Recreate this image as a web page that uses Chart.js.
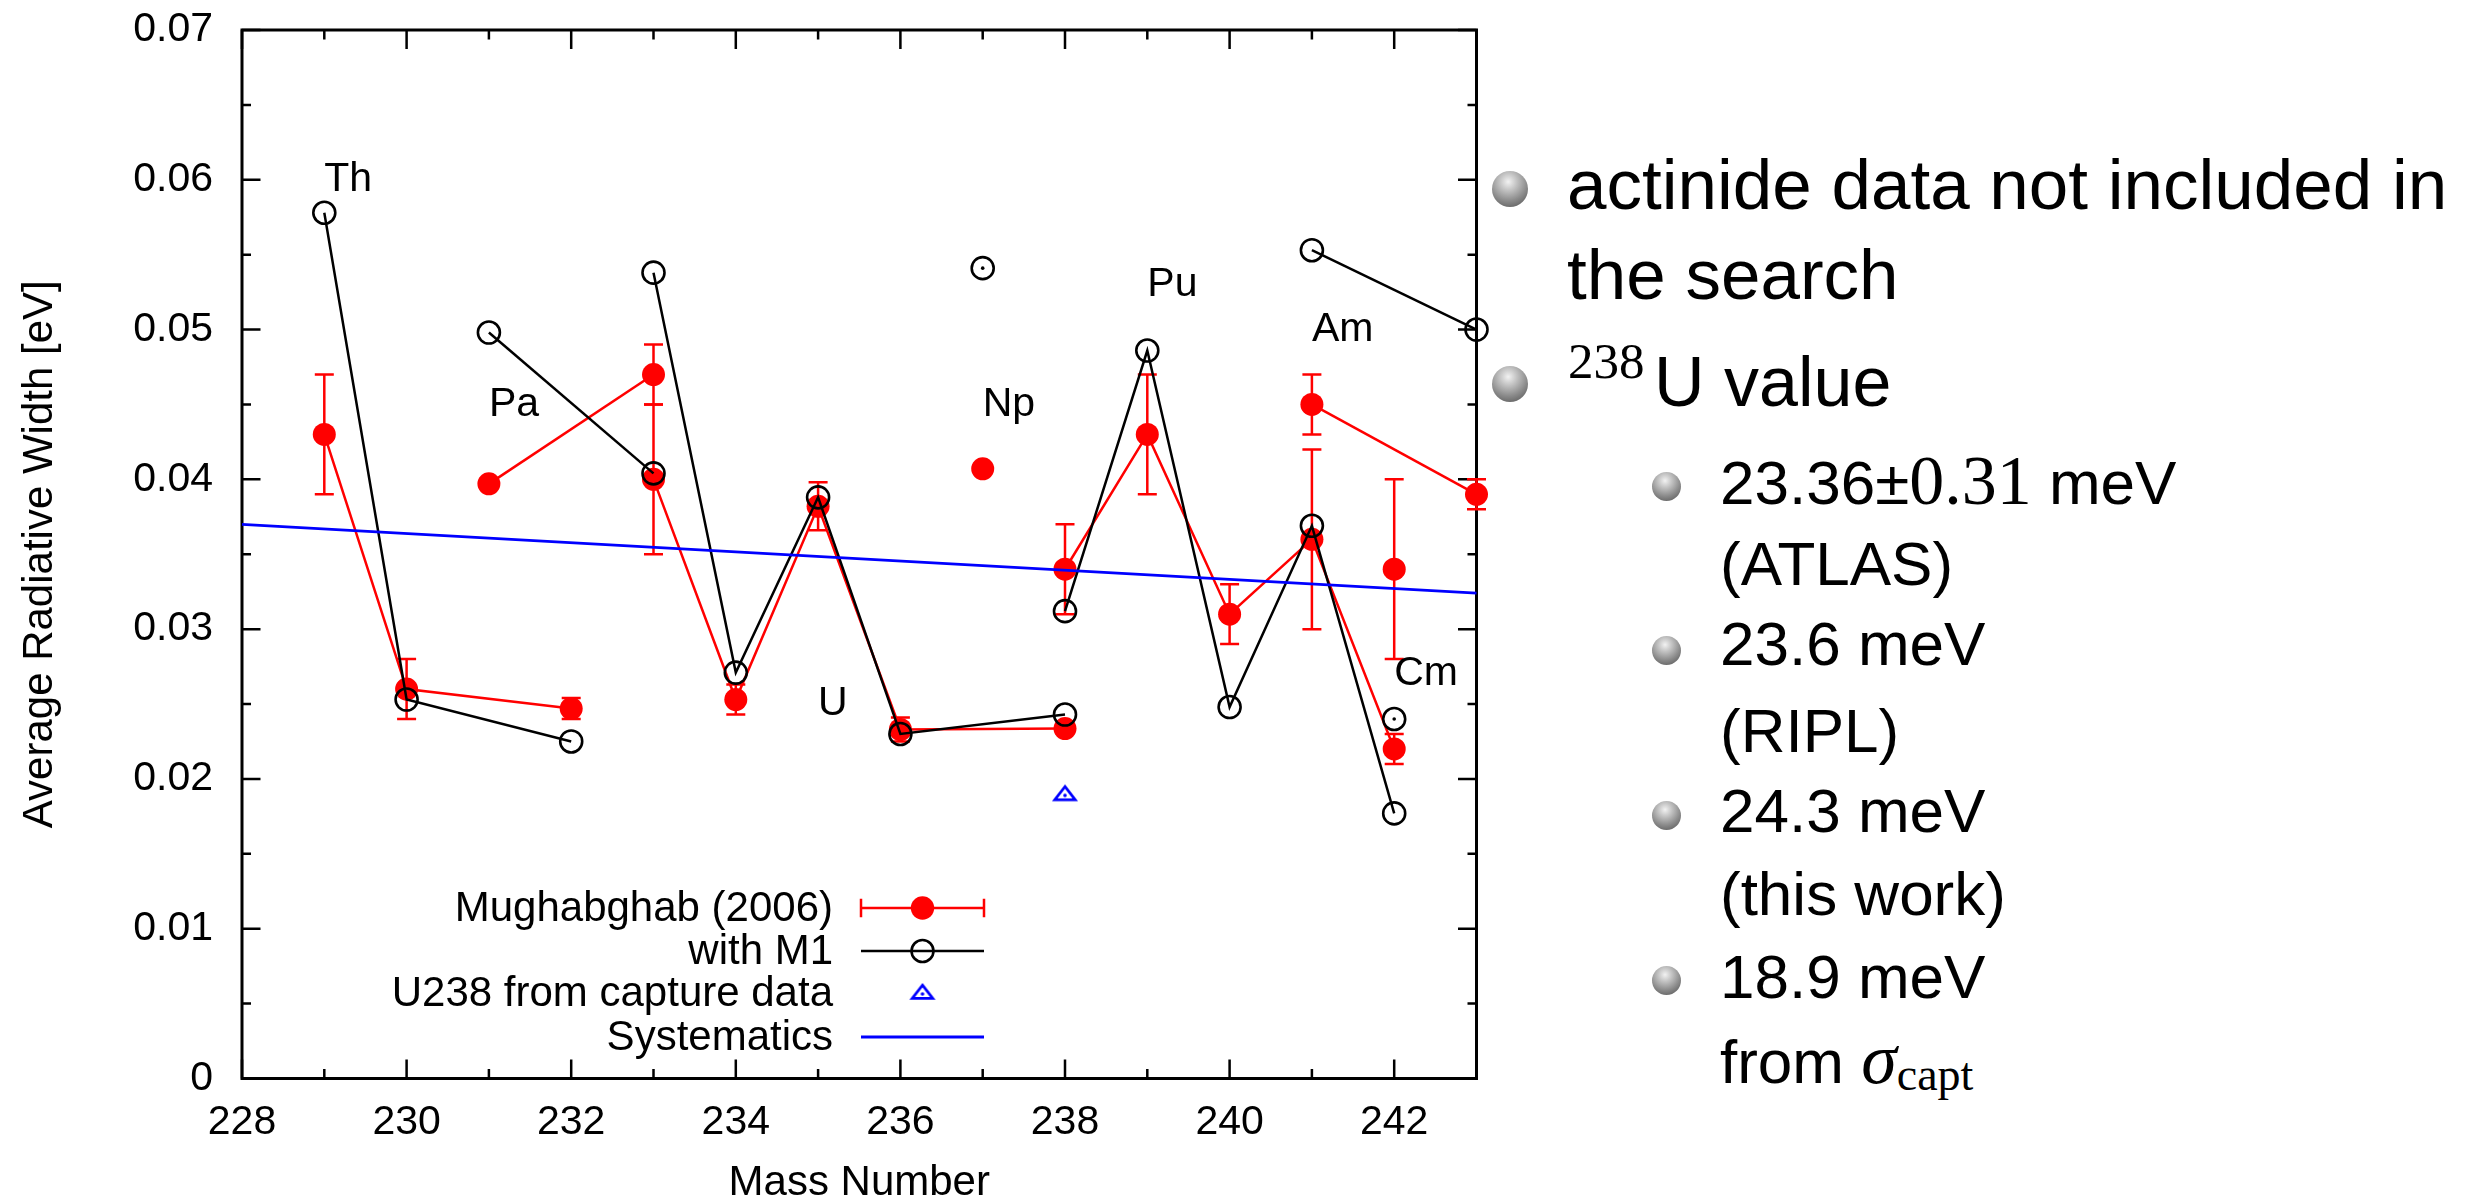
<!DOCTYPE html>
<html>
<head>
<meta charset="utf-8">
<title>Average Radiative Width of Actinides</title>
<script src="https://cdn.jsdelivr.net/npm/chart.js@4.4.1/dist/chart.umd.min.js"></script>
<style>
  html, body { margin: 0; padding: 0; background: #fff; }
  body { width: 2477px; height: 1204px; position: relative; overflow: hidden;
         font-family: "Liberation Sans", Arial, Helvetica, sans-serif; color: #000; }
  #plot { position: absolute; left: 0; top: 0; }
  .ln { position: absolute; white-space: nowrap; line-height: 0; }
  .serif { font-family: "Liberation Serif", "Times New Roman", serif; }
  .ball { position: absolute; border-radius: 50%;
          background: radial-gradient(circle at 45% 30%, #f2f2f2 0%, #c4c4c4 26%, #8a8a8a 60%, #5e5e5e 88%, #6c6c6c 100%); }
</style>
</head>
<body>
<canvas id="plot" width="1500" height="1204"></canvas>
<div id="notes"></div>
<script>
// ---- data -------------------------------------------------------------
// one entry per isotope: mass number, element, Mughabghab (2006) width,
// its uncertainty and the width computed with M1 strength (all in eV)
const massNumber    = [229, 230, 232,  231, 233,  233, 234, 235, 236, 238,  237,  238, 239, 240, 241, 242,  241, 243,  242];
const element       = ['Th','Th','Th', 'Pa','Pa', 'U','U','U','U','U',  'Np', 'Pu','Pu','Pu','Pu','Pu', 'Am','Am', 'Cm'];
const mughabghab    = [0.0430, 0.0260, 0.0247,  0.0397, 0.0470,  0.0400, 0.0253, 0.0382, 0.0233, 0.02336,  0.0407,  0.0340, 0.0430, 0.0310, 0.0360, 0.0220,  0.0450, 0.0390,  0.0340];
const mughabghabErr = [0.0040, 0.0020, 0.0007,  0.0003, 0.0020,  0.0050, 0.0010, 0.0016, 0.0008, 0.00031,  0.0003,  0.0030, 0.0040, 0.0020, 0.0060, 0.0010,  0.0020, 0.0010,  0.0060];
const withM1        = [0.0578, 0.0253, 0.0225,  0.0498, 0.0404,  0.0538, 0.0271, 0.0388, 0.0230, 0.0243,   0.0541,  0.0312, 0.0486, 0.0248, 0.0369, 0.0177,  0.0553, 0.0500,  0.0240];

// U-238 width extracted from capture cross sections
const captureMass  = [238];
const captureWidth = [0.0189];

// systematics trend
const systematicsMass  = [228, 243];
const systematicsWidth = [0.0370, 0.0324];

// element names, anchored in data units
const labelText  = ['Th', 'Pa', 'U', 'Np', 'Pu', 'Am', 'Cm'];
const labelMass  = [229, 231, 235, 237, 239, 241, 242];
const labelWidth = [0.0600, 0.0450, 0.0250, 0.0450, 0.0530, 0.0500, 0.0270];

// axis ticks
const xTickValues = [228, 230, 232, 234, 236, 238, 240, 242];
const yTickValues = [0, 0.01, 0.02, 0.03, 0.04, 0.05, 0.06, 0.07];

const seriesNames = ['Mughabghab (2006)', 'with M1', 'U238 from capture data', 'Systematics'];

// ---- styling ------------------------------------------------------------
const RED = '#ff0000', BLACK = '#000000', BLUE = '#0000ff';
const FONT = '"Liberation Sans", Arial, Helvetica, sans-serif';
Chart.defaults.font.family = FONT;
Chart.defaults.color = '#000';

// open, slightly flattened triangle with a centre dot (centroid at image centre)
const triangleMark = (() => {
  const c = document.createElement('canvas');
  c.width = 30; c.height = 30;
  const g = c.getContext('2d');
  const cx = 15, cy = 15, halfW = 10.3, h = 13.3;
  g.strokeStyle = BLUE; g.lineWidth = 2.7; g.lineJoin = 'miter';
  g.beginPath();
  g.moveTo(cx, cy - h * 2 / 3);
  g.lineTo(cx + halfW, cy + h / 3);
  g.lineTo(cx - halfW, cy + h / 3);
  g.closePath(); g.stroke();
  g.fillStyle = BLUE;
  g.beginPath(); g.arc(cx, cy, 1.8, 0, Math.PI * 2); g.fill();
  return c;
})();

// ---- datasets: one line per element chain ---------------------------------
const chains = [];
element.forEach((el, i) => {
  let c = chains.find(k => k.el === el);
  if (!c) { c = { el, idx: [] }; chains.push(c); }
  c.idx.push(i);
});

const datasets = [];
chains.forEach(c => {
  datasets.push({
    label: seriesNames[0],
    data: c.idx.map(i => ({ x: massNumber[i], y: mughabghab[i] })),
    errors: c.idx.map(i => mughabghabErr[i]),
    showLine: true, borderColor: RED, borderWidth: 2.5,
    pointRadius: 11.5, pointBorderWidth: 0, pointBackgroundColor: RED, pointHoverRadius: 11.5,
    clip: false, order: 2
  });
  datasets.push({
    label: seriesNames[1],
    data: c.idx.map(i => ({ x: massNumber[i], y: withM1[i] })),
    centerDot: c.idx.length === 1,
    showLine: true, borderColor: BLACK, borderWidth: 2.5,
    pointRadius: 11, pointBorderWidth: 2.6, pointBorderColor: BLACK,
    pointBackgroundColor: 'rgba(0,0,0,0)', pointHoverRadius: 11,
    clip: false, order: 1
  });
});
datasets.push({
  label: seriesNames[2],
  data: captureMass.map((m, i) => ({ x: m, y: captureWidth[i] })),
  showLine: false, pointStyle: triangleMark, pointRadius: 12, pointHoverRadius: 12,
  clip: false, order: 0
});
datasets.push({
  label: seriesNames[3],
  data: systematicsMass.map((m, i) => ({ x: m, y: systematicsWidth[i] })),
  showLine: true, borderColor: BLUE, borderWidth: 2.8, pointRadius: 0, pointHoverRadius: 0,
  clip: false, order: 0
});

// ---- plugins -----------------------------------------------------------
// border box with inward major/minor ticks on all four sides
const frameTicks = {
  id: 'frameTicks',
  beforeDatasetsDraw(chart) {
    const { ctx, chartArea: a, scales: { x, y } } = chart;
    ctx.save();
    ctx.strokeStyle = '#000';
    ctx.lineWidth = 2.5;
    ctx.beginPath();
    for (let m = x.min; m <= x.max; m += 1) {
      const px = x.getPixelForValue(m);
      const len = (m % 2 === 0) ? 19 : 9.5;
      ctx.moveTo(px, a.bottom); ctx.lineTo(px, a.bottom - len);
      ctx.moveTo(px, a.top); ctx.lineTo(px, a.top + len);
    }
    for (let k = 0; k <= 14; k++) {
      const py = y.getPixelForValue(k * 0.005);
      const len = (k % 2 === 0) ? 18.5 : 9;
      ctx.moveTo(a.left, py); ctx.lineTo(a.left + len, py);
      ctx.moveTo(a.right, py); ctx.lineTo(a.right - len, py);
    }
    ctx.stroke();
    ctx.lineWidth = 3;
    ctx.strokeRect(a.left, a.top, a.right - a.left, a.bottom - a.top);
    ctx.restore();
  }
};

// vertical error bars with caps
const errorBars = {
  id: 'errorBars',
  afterDatasetDraw(chart, args) {
    const ds = chart.data.datasets[args.index];
    if (!ds.errors) return;
    const { ctx, scales: { y } } = chart;
    ctx.save();
    ctx.strokeStyle = ds.borderColor;
    ctx.lineWidth = 2.5;
    ctx.beginPath();
    args.meta.data.forEach((pt, j) => {
      const v = ds.data[j].y, e = ds.errors[j];
      const y1 = y.getPixelForValue(v - e), y2 = y.getPixelForValue(v + e);
      ctx.moveTo(pt.x, y1); ctx.lineTo(pt.x, y2);
      ctx.moveTo(pt.x - 9.5, y1); ctx.lineTo(pt.x + 9.5, y1);
      ctx.moveTo(pt.x - 9.5, y2); ctx.lineTo(pt.x + 9.5, y2);
    });
    ctx.stroke();
    ctx.restore();
  }
};

// small dot in the centre of stand-alone open circles
const centerDots = {
  id: 'centerDots',
  afterDatasetDraw(chart, args) {
    const ds = chart.data.datasets[args.index];
    if (!ds.centerDot) return;
    const ctx = chart.ctx;
    ctx.save();
    ctx.fillStyle = ds.pointBorderColor;
    args.meta.data.forEach(pt => {
      ctx.beginPath(); ctx.arc(pt.x, pt.y, 1.8, 0, Math.PI * 2); ctx.fill();
    });
    ctx.restore();
  }
};

// element names
const elementLabels = {
  id: 'elementLabels',
  afterDatasetsDraw(chart) {
    const { ctx, scales: { x, y } } = chart;
    ctx.save();
    ctx.font = '41px ' + FONT;
    ctx.fillStyle = '#000';
    ctx.textAlign = 'left';
    ctx.textBaseline = 'middle';
    labelText.forEach((t, i) => {
      ctx.fillText(t, x.getPixelForValue(labelMass[i]), y.getPixelForValue(labelWidth[i]));
    });
    ctx.restore();
  }
};

// key inside the plot, text right-aligned with a sample to the right
const keyBox = {
  id: 'keyBox',
  afterDraw(chart) {
    const ctx = chart.ctx;
    const textRight = 833, s0 = 861, s1 = 984, sc = 922.5;
    const rows = [908, 951, 993, 1037];
    ctx.save();
    ctx.font = '42px ' + FONT;
    ctx.fillStyle = '#000';
    ctx.textAlign = 'right';
    ctx.textBaseline = 'middle';
    seriesNames.forEach((t, i) => ctx.fillText(t, textRight, rows[i] + 1));

    // Mughabghab: line, end caps and filled dot
    let r = rows[0];
    ctx.strokeStyle = RED; ctx.lineWidth = 2.5;
    ctx.beginPath();
    ctx.moveTo(s0, r); ctx.lineTo(s1, r);
    ctx.moveTo(s0, r - 9.2); ctx.lineTo(s0, r + 9.2);
    ctx.moveTo(s1, r - 9.2); ctx.lineTo(s1, r + 9.2);
    ctx.stroke();
    ctx.fillStyle = RED;
    ctx.beginPath(); ctx.arc(sc, r, 11.7, 0, Math.PI * 2); ctx.fill();

    // with M1: line and open circle
    r = rows[1];
    ctx.strokeStyle = BLACK;
    ctx.beginPath(); ctx.moveTo(s0, r); ctx.lineTo(s1, r); ctx.stroke();
    ctx.lineWidth = 2.6;
    ctx.beginPath(); ctx.arc(sc, r, 11, 0, Math.PI * 2); ctx.stroke();

    // capture data: open triangle with dot
    r = rows[2];
    ctx.drawImage(triangleMark, sc - triangleMark.width / 2, r + 1 - triangleMark.height / 2);

    // systematics: line
    r = rows[3];
    ctx.strokeStyle = BLUE;
    ctx.lineWidth = 2.8;
    ctx.beginPath(); ctx.moveTo(s0, r); ctx.lineTo(s1, r); ctx.stroke();
    ctx.restore();
  }
};

new Chart(document.getElementById('plot'), {
  type: 'scatter',
  data: { datasets },
  options: {
    responsive: false,
    animation: false,
    events: [],
    layout: { autoPadding: false, padding: { left: 0, top: 30, right: 23.5, bottom: 0 } },
    plugins: { legend: { display: false }, tooltip: { enabled: false } },
    scales: {
      x: {
        type: 'linear', position: 'bottom', min: 228, max: 243,
        afterBuildTicks: s => { s.ticks = xTickValues.map(v => ({ value: v })); },
        afterFit: s => { s.height = 125.5; s.paddingLeft = 0; s.paddingRight = 0; },
        grid: { display: false, drawTicks: false },
        border: { display: false },
        ticks: { padding: 20, autoSkip: false, maxRotation: 0, color: '#000',
                 font: { size: 41 }, callback: v => String(v) },
        title: { display: true, text: 'Mass Number', color: '#000',
                 font: { size: 42, lineHeight: 1 }, padding: { top: 0, bottom: 0 } }
      },
      y: {
        type: 'linear', position: 'left', min: 0, max: 0.07,
        afterBuildTicks: s => { s.ticks = yTickValues.map(v => ({ value: v })); },
        afterFit: s => { s.width = 242; s.paddingTop = 0; s.paddingBottom = 0; },
        grid: { display: false, drawTicks: false },
        border: { display: false },
        ticks: { padding: 29, color: '#000', font: { size: 41 },
                 callback: v => (v === 0 ? '0' : v.toFixed(2)) },
        title: { display: true, text: 'Average Radiative Width [eV]', color: '#000',
                 font: { size: 42, lineHeight: 1 }, padding: { top: 19, bottom: 0 } }
      }
    }
  },
  plugins: [frameTicks, errorBars, centerDots, elementLabels, keyBox]
});

// ---- bullet notes beside the plot ----------------------------------------
const notes = document.getElementById('notes');
function ball(cx, cy, d) {
  const b = document.createElement('div');
  b.className = 'ball';
  b.style.left = (cx - d / 2) + 'px';
  b.style.top = (cy - d / 2) + 'px';
  b.style.width = d + 'px';
  b.style.height = d + 'px';
  notes.appendChild(b);
}
// line-height 0 puts the baseline (ascent - descent)/2 below the box top
function line(html, left, baseline, size) {
  const d = document.createElement('div');
  d.className = 'ln';
  d.style.left = left + 'px';
  d.style.top = (baseline - 0.3465 * size) + 'px';
  d.style.fontSize = size + 'px';
  d.innerHTML = html;
  notes.appendChild(d);
}

ball(1510, 189, 36);
line('actinide data not included in', 1567, 210, 71);
line('the search', 1567, 300, 71);

ball(1510, 384, 36);
line('<span class="serif">238</span>', 1568, 379, 51);
line('U value', 1654, 406, 70);

ball(1666, 486, 29);
line('23.36±<span class="serif" style="font-size:70px">0.31</span> meV', 1720, 502, 62);
line('(ATLAS)', 1720, 585, 62);

ball(1666, 650, 29);
line('23.6 meV', 1720, 665, 62);
line('(RIPL)', 1720, 752, 62);

ball(1666, 815, 29);
line('24.3 meV', 1720, 832, 62);
line('(this work)', 1720, 915, 62);

ball(1666, 980, 29);
line('18.9 meV', 1720, 998, 62);
line('from <span class="serif" style="font-style:italic;font-size:72px">σ</span><span class="serif" style="font-size:46px;position:relative;top:7px">capt</span>', 1720, 1080, 62);
</script>
</body>
</html>
